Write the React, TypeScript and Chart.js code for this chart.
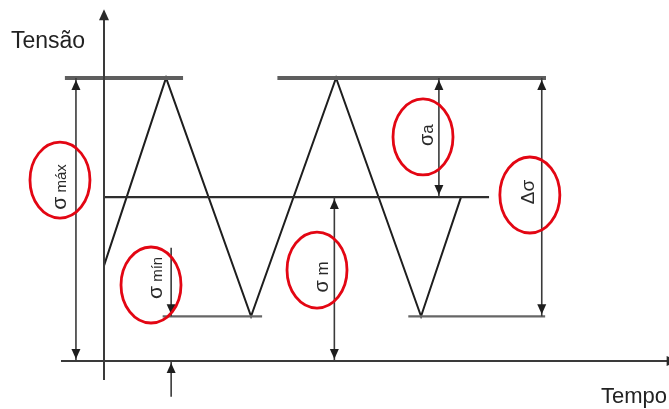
import React, { useEffect, useRef } from "react";
import { Chart, registerables } from "chart.js";

Chart.register(...registerables);

// Stress levels of the constant-amplitude cycle (stress units)
const levelMax = 9.5;
const levelMean = 5.5;
const levelMin = 1.5;

// Triangular stress history: time and stress at each turning point
const waveTime = [0, 0.73, 1.73, 2.73, 3.73, 4.2];
const waveStress = [3.2, levelMax, levelMin, levelMax, levelMin, levelMean];

// Reference lines (time spans)
const maxLineSpans = [[-0.46, 0.93], [2.04, 5.2]];
const meanLineSpan = [0, 4.53];
const minLineSpans = [[0.69, 1.86], [3.58, 5.19]];

// Axes extents
const timeAxisSpan = [-0.506, 6.69];
const stressAxisSpan = [-0.64, 11.8];

// Dimension arrows: time position, low end, high end, which ends carry heads
const dimTime = [-0.33, 0.79, 0.79, 2.71, 3.94, 5.15];
const dimLow = [0, levelMin, -1.2, 0, levelMean, levelMin];
const dimHigh = [levelMax, 3.8, 0, levelMean, levelMax, levelMax];
const dimHeads = ["both", "low", "high", "both", "both", "both"];

// Labels of the quantities (rotated), with their circled highlight
const labelParts = [
  [["σ", 21], [" máx", 15]],
  [["σ", 21], [" mín", 15]],
  [["σ", 20], [" m", 17]],
  [["σ", 20], ["a", 17]],
  [["Δσ", 19]],
];
const labelTime = [-0.506, 0.612, 2.565, 3.8, 4.988];
const labelStress = [5.84, 2.79, 2.82, 7.58, 5.67];
const ringTime = [-0.518, 0.553, 2.506, 3.753, 5.01];
const ringStress = [6.07, 2.55, 3.05, 7.52, 5.57];

const axisTitleY = "Tensão";
const axisTitleX = "Tempo";

const FONT = '"Liberation Sans", Arial, sans-serif';

function seg(t0: number, t1: number, s: number) {
  return [
    { x: t0, y: s },
    { x: t1, y: s },
  ];
}

function lineSet(data: any[], color: string, width: number) {
  return {
    data,
    showLine: true,
    borderColor: color,
    borderWidth: width,
    pointRadius: 0,
    fill: false,
    tension: 0,
    borderCapStyle: "butt",
  };
}

function arrowHead(ctx: CanvasRenderingContext2D, x: number, y: number, dx: number, dy: number, len: number, half: number) {
  // (x, y) is the tip, (dx, dy) the unit direction of travel
  const bx = x - dx * len;
  const by = y - dy * len;
  ctx.beginPath();
  ctx.moveTo(x, y);
  ctx.lineTo(bx - dy * half, by + dx * half);
  ctx.lineTo(bx + dy * half, by - dx * half);
  ctx.closePath();
  ctx.fill();
}

function rotatedLabel(ctx: CanvasRenderingContext2D, parts: any[], cx: number, cy: number) {
  let total = 0;
  let asc = 0;
  let desc = 0;
  const widths: number[] = [];
  for (const [txt, size] of parts) {
    ctx.font = `${size}px ${FONT}`;
    const m = ctx.measureText(txt);
    widths.push(m.width);
    total += m.width;
    asc = Math.max(asc, m.actualBoundingBoxAscent);
    desc = Math.max(desc, m.actualBoundingBoxDescent);
  }
  ctx.save();
  ctx.translate(cx, cy);
  ctx.rotate(-Math.PI / 2);
  ctx.textBaseline = "alphabetic";
  ctx.textAlign = "left";
  const base = (asc - desc) / 2;
  let x = -total / 2;
  parts.forEach(([txt, size]: any, i: number) => {
    ctx.font = `${size}px ${FONT}`;
    ctx.fillText(txt, x, base);
    x += widths[i];
  });
  ctx.restore();
}

const annotations = {
  id: "cycleAnnotations",
  afterDatasetsDraw(chart: any) {
    const ctx: CanvasRenderingContext2D = chart.ctx;
    const xs = chart.scales.x;
    const ys = chart.scales.y;
    const px = (t: number) => xs.getPixelForValue(t);
    const py = (s: number) => ys.getPixelForValue(s);

    ctx.save();
    // axis arrow heads
    ctx.fillStyle = "#2a2a2a";
    arrowHead(ctx, px(0), py(stressAxisSpan[1]), 0, -1, 11, 5);
    arrowHead(ctx, px(timeAxisSpan[1]) + 5, py(0), 1, 0, 11, 5);

    // dimension arrows
    ctx.strokeStyle = "#3a3a3a";
    ctx.lineWidth = 1.6;
    dimTime.forEach((t, i) => {
      const x = px(t);
      const yLow = py(dimLow[i]);
      const yHigh = py(dimHigh[i]);
      ctx.beginPath();
      ctx.moveTo(x, yLow);
      ctx.lineTo(x, yHigh);
      ctx.stroke();
      ctx.fillStyle = "#1e1e1e";
      if (dimHeads[i] === "both" || dimHeads[i] === "high") arrowHead(ctx, x, yHigh + 2, 0, -1, 10, 4.5);
      if (dimHeads[i] === "both" || dimHeads[i] === "low") arrowHead(ctx, x, yLow - 2, 0, 1, 10, 4.5);
    });

    // quantity labels
    ctx.fillStyle = "#2a2a2a";
    labelParts.forEach((parts, i) => {
      rotatedLabel(ctx, parts, px(labelTime[i]), py(labelStress[i]));
    });

    // red highlight rings
    ctx.strokeStyle = "#e30613";
    ctx.lineWidth = 2.8;
    ringTime.forEach((t, i) => {
      ctx.beginPath();
      ctx.ellipse(px(t), py(ringStress[i]), 30, 38, 0, 0, Math.PI * 2);
      ctx.stroke();
    });

    // axis titles
    ctx.fillStyle = "#222";
    ctx.textBaseline = "alphabetic";
    ctx.textAlign = "left";
    ctx.font = `23px ${FONT}`;
    ctx.fillText(axisTitleY, 11, 48);
    ctx.font = `22px ${FONT}`;
    ctx.fillText(axisTitleX, 601, 403);
    ctx.restore();
  },
};

export default function App() {
  const canvasRef = useRef<HTMLCanvasElement | null>(null);

  useEffect(() => {
    const canvas = canvasRef.current;
    if (!canvas) return;
    const wave = waveTime.map((t, i) => ({ x: t, y: waveStress[i] }));
    const chart = new Chart(canvas, {
      type: "scatter",
      data: {
        datasets: [
          lineSet(seg(timeAxisSpan[0], timeAxisSpan[1], 0), "#3a3a3a", 2),
          lineSet([{ x: 0, y: stressAxisSpan[0] }, { x: 0, y: stressAxisSpan[1] - 0.1 }], "#3a3a3a", 2),
          lineSet(seg(maxLineSpans[0][0], maxLineSpans[0][1], levelMax), "#5e5e5e", 4),
          lineSet(seg(maxLineSpans[1][0], maxLineSpans[1][1], levelMax), "#5e5e5e", 4),
          lineSet(seg(meanLineSpan[0], meanLineSpan[1], levelMean), "#2e2e2e", 2.4),
          lineSet(seg(minLineSpans[0][0], minLineSpans[0][1], levelMin), "#666", 2.2),
          lineSet(seg(minLineSpans[1][0], minLineSpans[1][1], levelMin), "#666", 2.2),
          lineSet(wave, "#1e1e1e", 2),
        ] as any,
      },
      options: {
        animation: false,
        responsive: false,
        devicePixelRatio: 1,
        layout: { padding: 0 },
        plugins: {
          legend: { display: false },
          tooltip: { enabled: false },
        },
        scales: {
          x: { type: "linear", min: -104 / 85, max: 565 / 85, display: false },
          y: { type: "linear", min: -48 / 29.8, max: 361 / 29.8, display: false },
        },
      } as any,
      plugins: [annotations],
    });
    return () => chart.destroy();
  }, []);

  return (
    <div style={{ position: "absolute", left: 0, top: 0, width: 669, height: 409, background: "#fff" }}>
      <canvas ref={canvasRef} width={669} height={409} />
    </div>
  );
}
